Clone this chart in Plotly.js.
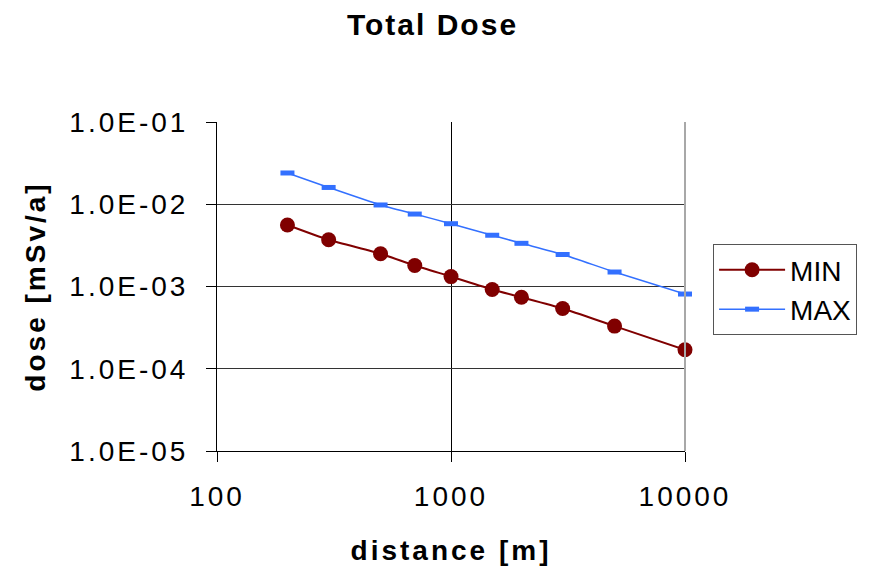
<!DOCTYPE html>
<html>
<head>
<meta charset="utf-8">
<script src="https://cdn.plot.ly/plotly-3.0.1.min.js"></script>
<style>
  html, body { margin: 0; padding: 0; background: #fff; }
  #chart { width: 870px; height: 572px; }
  .xtick text, .ytick text { letter-spacing: 3px; }
  .xtitle, .ytitle { letter-spacing: 3px; }
  .gtitle { letter-spacing: 2px; }
</style>
</head>
<body>
<div id="chart"></div>
<script>
// distance [m]
const distance = [200, 300, 500, 700, 1000, 1500, 2000, 3000, 5000, 10000];
// dose [mSv/a]
const doseMin = [5.6e-3, 3.7e-3, 2.5e-3, 1.8e-3, 1.32e-3, 9.2e-4, 7.4e-4, 5.4e-4, 3.3e-4, 1.7e-4];
const doseMax = [2.4e-2, 1.6e-2, 9.8e-3, 7.6e-3, 5.8e-3, 4.2e-3, 3.35e-3, 2.45e-3, 1.5e-3, 8.1e-4];

const xTickVals = [100, 1000, 10000];
const xTickText = ['100', '1000', '10000'];
const yTickVals = [1e-5, 1e-4, 1e-3, 1e-2, 1e-1];
const yTickText = ['1.0E-05', '1.0E-04', '1.0E-03', '1.0E-02', '1.0E-01'];

const FONT = 'Arial, "Liberation Sans", sans-serif';

const traces = [
  {
    x: distance, y: doseMin, name: 'MIN', type: 'scatter', mode: 'lines+markers',
    line: { color: '#800000', width: 2, shape: 'spline', smoothing: 0.6 },
    marker: { symbol: 'circle', size: 15, color: '#800000' },
    cliponaxis: false
  },
  {
    x: distance, y: doseMax, name: 'MAX', type: 'scatter', mode: 'lines+markers',
    line: { color: '#3370ff', width: 1.5, shape: 'spline', smoothing: 0.6 },
    marker: { symbol: 'line-ew', size: 10, color: '#3370ff', line: { color: '#3370ff', width: 5 } },
    cliponaxis: false
  }
];

const layout = {
  width: 870, height: 572,
  margin: { l: 217, r: 185, t: 122, b: 121 },
  paper_bgcolor: '#fff', plot_bgcolor: '#fff',
  font: { family: FONT, color: '#000', size: 28 },
  title: {
    text: '<b>Total Dose</b>', font: { family: FONT, size: 30, color: '#000' },
    x: 0.4605, xref: 'paper', xanchor: 'center', y: 0.958, yref: 'container', yanchor: 'middle'
  },
  xaxis: {
    type: 'log', range: [2, 4],
    tickmode: 'array', tickvals: xTickVals, ticktext: xTickText,
    ticks: 'outside', ticklen: 10, tickcolor: '#000', tickwidth: 1,
    showline: true, linecolor: '#000', linewidth: 1,
    showgrid: true, gridcolor: '#000', gridwidth: 1,
    zeroline: false,
    tickfont: { family: FONT, size: 28, color: '#000' },
    ticklabelstandoff: 10,
    title: { text: '<b>distance [m]</b>', font: { family: FONT, size: 28, color: '#000' }, standoff: 29 }
  },
  yaxis: {
    type: 'log', range: [-5, -1],
    tickmode: 'array', tickvals: yTickVals, ticktext: yTickText,
    ticks: 'outside', ticklen: 10, tickcolor: '#000', tickwidth: 1,
    showline: true, linecolor: '#000', linewidth: 1,
    showgrid: true, gridcolor: '#333', gridwidth: 1,
    zeroline: false,
    tickfont: { family: FONT, size: 28, color: '#000' },
    ticklabelstandoff: 12,
    title: { text: '<b>dose [mSv/a]</b>', font: { family: FONT, size: 28, color: '#000' }, standoff: 15 }
  },
  shapes: [
    { type: 'line', xref: 'x domain', yref: 'y domain', x0: 1, x1: 1, y0: 0, y1: 1,
      line: { color: '#a8a8a8', width: 2 }, layer: 'above' }
  ],
  legend: {
    x: 1.06, xanchor: 'left', y: 0.629, yanchor: 'top',
    bordercolor: '#555', borderwidth: 1, bgcolor: '#fff',
    font: { family: FONT, size: 28, color: '#000' },
    itemwidth: 66, tracegroupgap: 0, entrywidth: 150, entrywidthmode: 'pixels'
  },
  showlegend: true
};

Plotly.newPlot('chart', traces, layout, { displayModeBar: false, staticPlot: true });
</script>
</body>
</html>
